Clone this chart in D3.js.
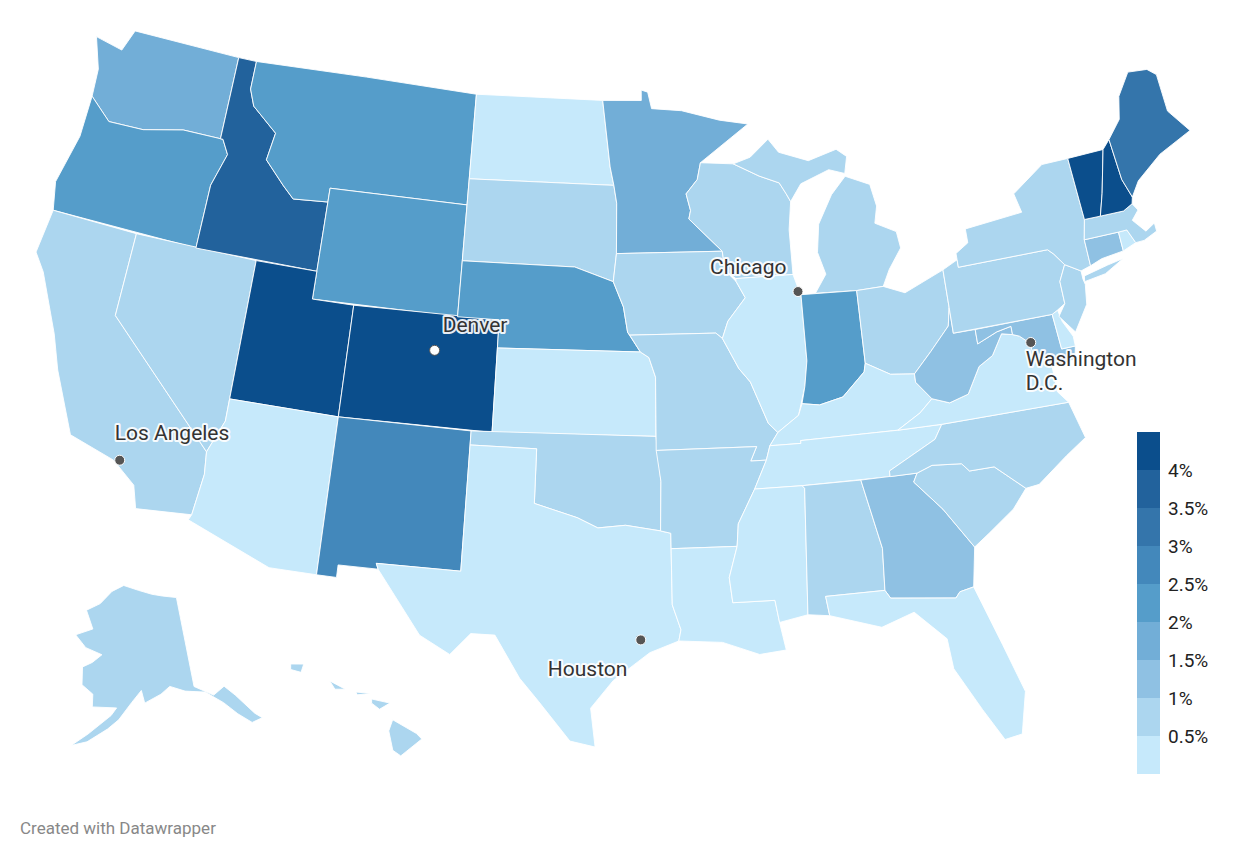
<!DOCTYPE html>
<html><head><meta charset="utf-8">
<script src="https://cdn.jsdelivr.net/npm/d3@7"></script>
<style>body{margin:0;background:#fff;font-family:Roboto,sans-serif}</style>
</head><body>
<svg id="c" width="1240" height="860"></svg>
<script>
const states = ["WA","OR","CA","NV","ID","MT","WY","UT","AZ","CO","NM","ND","SD","NE","KS","OK","TX","MN","IA","MO","AR","LA","WI","IL","MI","IN","OH","KY","TN","MS","AL","GA","FL","SC","NC","VA","WV","MD","DE","PA","NJ","NY","CT","RI","MA","VT","NH","ME","AK","HI"];
const values = [1.7,2.2,0.7,0.7,3.7,2.1,2.1,4.3,0.3,4.3,2.7,0.3,0.8,2.2,0.3,0.8,0.3,1.7,0.8,0.8,0.8,0.3,0.8,0.3,0.8,2.2,0.8,0.3,0.3,0.3,0.8,1.3,0.3,0.8,0.8,0.3,1.2,1.2,0.3,0.8,0.8,0.8,1.2,0.3,0.8,4.3,4.3,3.2,0.8,0.8];
const legendLabels = ["4%","3.5%","3%","2.5%","2%","1.5%","1%","0.5%"];
const thresholds = [0.5,1,1.5,2,2.5,3,3.5,4];
const colors = ["#c6e9fb","#acd6ef","#8fc1e3","#72aed7","#559dca","#4388bb","#3475ab","#22629c","#0b4e8c"];
const cities = [
 {name:"Denver",lon:-104.99,lat:39.74,white:true,dx:8,dy:-18,lines:["Denver"]},
 {name:"Chicago",lon:-87.63,lat:41.88,dx:-88,dy:-18,lines:["Chicago"]},
 {name:"Washington",lon:-77.04,lat:38.9,dx:-5,dy:24,lines:["Washington","D.C."]},
 {name:"Los Angeles",lon:-118.24,lat:34.05,dx:-5,dy:-20,lines:["Los Angeles"]},
 {name:"Houston",lon:-95.37,lat:29.76,dx:-93,dy:36,lines:["Houston"]}
];
// approximate state outlines [lon,lat]
const geo = {
WA:[[[-124.7,48.4],[-123.2,48.2],[-122.8,49],[-117.03,49],[-117.03,46],[-119,46],[-121,45.65],[-122.8,45.6],[-124,46.3],[-124.1,47.3]]],
OR:[[[-124,46.3],[-122.8,45.6],[-121,45.65],[-119,46],[-116.9,46],[-116.5,45.5],[-117,44.3],[-117.03,42],[-124.2,42],[-124.5,43],[-124,44.8]]],
CA:[[[-124.2,42],[-120,42],[-120,39],[-114.6,35],[-114.5,34.2],[-114.7,32.7],[-117.1,32.5],[-117.4,33.3],[-118.5,34],[-120.6,34.5],[-121.9,36.6],[-122.5,37.8],[-123.8,39.8],[-124.4,40.4]]],
NV:[[[-120,42],[-114.04,42],[-114.04,36.2],[-114.6,35],[-120,39]]],
ID:[[[-117.03,49],[-116.05,49],[-116.05,47.98],[-115.7,47.4],[-114.3,46.6],[-114.5,45.6],[-113.4,44.8],[-112.8,44.4],[-111.05,44.5],[-111.05,42],[-117.03,42],[-117,44.3],[-116.5,45.5],[-116.9,46],[-117.03,46]]],
MT:[[[-116.05,49],[-104.05,49],[-104.05,45],[-111.05,45],[-111.05,44.5],[-112.8,44.4],[-113.4,44.8],[-114.5,45.6],[-114.3,46.6],[-115.7,47.4],[-116.05,47.98]]],
WY:[[[-111.05,45],[-104.05,45],[-104.05,41],[-111.05,41]]],
UT:[[[-114.04,42],[-111.05,42],[-111.05,41],[-109.05,41],[-109.05,37],[-114.04,37]]],
AZ:[[[-114.04,37],[-109.05,37],[-109.05,31.33],[-111.07,31.33],[-114.8,32.5],[-114.7,32.7],[-114.5,34.2],[-114.6,35],[-114.04,36.2]]],
CO:[[[-109.05,41],[-102.05,41],[-102.05,37],[-109.05,37]]],
NM:[[[-109.05,37],[-103,37],[-103,32],[-106.6,32],[-106.5,31.8],[-108.2,31.78],[-108.2,31.33],[-109.05,31.33]]],
ND:[[[-104.05,49],[-97.23,49],[-96.8,46.6],[-96.6,45.94],[-104.05,45.94]]],
SD:[[[-104.05,45.94],[-96.6,45.94],[-96.45,45.3],[-96.45,43.5],[-96.6,42.5],[-98.5,43],[-104.05,43]]],
NE:[[[-104.05,43],[-98.5,43],[-96.6,42.5],[-96.1,41.6],[-95.9,40.7],[-95.3,40],[-102.05,40],[-102.05,41],[-104.05,41]]],
KS:[[[-102.05,40],[-95.3,40],[-94.9,39.8],[-94.6,39.1],[-94.62,37],[-102.05,37]]],
OK:[[[-103,37],[-94.62,37],[-94.43,35.4],[-94.48,33.64],[-96,33.85],[-97.2,33.75],[-98.1,34.1],[-100,34.56],[-100,36.5],[-103,36.5]]],
TX:[[[-103,36.5],[-100,36.5],[-100,34.56],[-98.1,34.1],[-97.2,33.75],[-96,33.85],[-94.48,33.64],[-94.04,33.55],[-94.04,31],[-93.7,30.1],[-93.8,29.7],[-95,29.3],[-96.5,28.3],[-97.4,27.3],[-97.2,25.9],[-98.2,26.1],[-99.5,27.5],[-100.3,28.3],[-101.4,29.8],[-102.4,29.8],[-103.2,29],[-104.5,29.6],[-106.5,31.8],[-106.6,32],[-103,32]]],
MN:[[[-97.23,49],[-95.15,49],[-95.15,49.38],[-94.8,49.3],[-94.6,48.7],[-93,48.6],[-91,48.2],[-89.5,48],[-92.1,46.7],[-92.3,46.1],[-92.9,45.6],[-92.7,45],[-92.8,44.7],[-91.2,43.5],[-96.45,43.5],[-96.45,45.3],[-96.6,45.94],[-96.8,46.6]]],
IA:[[[-96.45,43.5],[-91.2,43.5],[-91.1,42.8],[-90.6,42.4],[-90.2,41.8],[-91.1,41],[-91.4,40.4],[-91.7,40.6],[-95.8,40.6],[-95.9,40.7],[-96.1,41.6],[-96.6,42.5]]],
MO:[[[-95.8,40.6],[-91.7,40.6],[-91.4,40.4],[-90.7,39.3],[-90.2,38.8],[-89.5,37.3],[-89.1,36.95],[-89.5,36.5],[-89.7,36],[-90.4,36],[-90.1,36.5],[-94.62,36.5],[-94.6,39.1],[-94.9,39.8],[-95.3,40]]],
AR:[[[-94.62,36.5],[-90.1,36.5],[-90.4,36],[-89.7,36],[-90.3,35],[-91.1,33.8],[-91.2,33],[-94.04,33],[-94.04,33.55],[-94.48,33.64],[-94.43,35.4]]],
LA:[[[-94.04,33],[-91.2,33],[-91.6,31.9],[-91.5,31],[-89.73,31],[-89.6,30.2],[-89.4,29.2],[-90.5,29.1],[-92,29.6],[-93.8,29.7],[-93.7,30.1],[-94.04,31]]],
WI:[[[-92.1,46.7],[-90.4,46.6],[-89.1,46.1],[-88.1,45.8],[-87.8,45.4],[-87.6,45.1],[-87.8,44.1],[-87.8,42.5],[-90.6,42.5],[-91.1,42.8],[-91.2,43.5],[-92.8,44.7],[-92.7,45],[-92.9,45.6],[-92.3,46.1]]],
IL:[[[-90.6,42.5],[-87.8,42.5],[-87.5,41.7],[-87.5,39.4],[-87.7,38.5],[-88.1,37.5],[-89.1,36.95],[-89.5,37.3],[-90.2,38.8],[-90.7,39.3],[-91.4,40.4],[-91.1,41],[-90.2,41.8],[-90.6,42.4]]],
MI:[[[-86.8,41.76],[-84.8,41.7],[-83.5,41.73],[-83.1,42.3],[-82.4,43],[-82.5,43.6],[-83.5,44],[-83.3,44.6],[-83.5,45.4],[-84.7,45.8],[-85.5,45.2],[-86.3,44.2],[-86.5,43.2],[-86.2,42.4]],
    [[-90.4,46.6],[-89.1,46.1],[-88.1,45.8],[-87.8,45.4],[-87.6,45.1],[-87,45.7],[-85.5,46.1],[-84.7,45.9],[-84.5,46.5],[-85,46.8],[-86.5,46.5],[-88,46.9],[-88.5,47.4],[-89.5,46.8]]],
IN:[[[-87.5,41.76],[-84.8,41.7],[-84.8,39.1],[-84.9,38.8],[-86,38],[-87.1,37.8],[-87.9,37.9],[-87.7,38.5],[-87.5,39.4]]],
OH:[[[-84.8,41.7],[-83.5,41.73],[-82.5,41.4],[-80.52,42],[-80.52,40.64],[-80.7,40],[-81.7,39.2],[-82.6,38.5],[-83.7,38.6],[-84.8,39.1]]],
KY:[[[-84.8,39.1],[-83.7,38.6],[-82.6,38.5],[-82.6,38.2],[-81.97,37.54],[-82.6,37.1],[-83.7,36.6],[-88.1,36.6],[-88.1,36.5],[-89.5,36.5],[-89.1,36.95],[-88.1,37.5],[-87.9,37.9],[-87.1,37.8],[-86,38],[-84.9,38.8]]],
TN:[[[-90.3,35],[-89.7,36],[-89.5,36.5],[-88.1,36.5],[-88.1,36.6],[-83.7,36.6],[-81.7,36.59],[-82.1,36.1],[-84.3,35.2],[-84.3,35],[-88.2,35]]],
MS:[[[-91.1,33.8],[-90.3,35],[-88.2,35],[-88.1,34.9],[-88.4,30.4],[-89.6,30.2],[-89.73,31],[-91.5,31],[-91.6,31.9],[-91.2,33]]],
AL:[[[-88.2,35],[-85.6,35],[-85,32.5],[-85.1,31],[-87.6,31],[-87.5,30.3],[-88.4,30.4],[-88.1,34.9]]],
GA:[[[-85.6,35],[-83.1,35],[-83.3,34.7],[-82.2,33.6],[-81.1,32.1],[-81.4,30.7],[-82,30.6],[-82.2,30.4],[-84.9,30.7],[-85.1,31],[-85,32.5]]],
FL:[[[-87.6,31],[-85.1,31],[-84.9,30.7],[-82.2,30.4],[-82,30.6],[-81.4,30.7],[-80.6,28.5],[-80,26.7],[-80.4,25.2],[-81.1,25.1],[-81.8,26.3],[-82.7,27.9],[-82.8,29],[-84,30.1],[-85.4,29.7],[-87.5,30.3]]],
SC:[[[-83.1,35],[-82.4,35.2],[-81.1,35.1],[-80.8,34.8],[-79.7,34.8],[-78.5,33.85],[-79.2,33.2],[-80.4,32.5],[-81.1,32.1],[-82.2,33.6],[-83.3,34.7]]],
NC:[[[-84.3,35],[-84.3,35.2],[-82.1,36.1],[-81.7,36.59],[-75.9,36.55],[-75.5,35.2],[-76.5,34.7],[-77.9,33.9],[-78.5,33.85],[-79.7,34.8],[-80.8,34.8],[-81.1,35.1],[-82.4,35.2],[-83.1,35]]],
VA:[[[-83.7,36.6],[-81.7,36.59],[-75.9,36.55],[-76.3,37],[-76.3,38],[-77,38.4],[-77.1,38.9],[-77.5,39.2],[-77.8,39.3],[-78.3,39.4],[-78.9,38.7],[-79.6,38.4],[-80.3,37.5],[-81.2,37.3],[-81.97,37.54],[-82.6,37.1]]],
WV:[[[-81.97,37.54],[-81.2,37.3],[-80.3,37.5],[-79.6,38.4],[-78.9,38.7],[-78.3,39.4],[-77.8,39.3],[-77.8,39.6],[-78.5,39.5],[-79.48,39.2],[-79.48,39.72],[-80.52,39.72],[-80.52,40.64],[-80.7,40],[-81.7,39.2],[-82.6,38.5],[-82.6,38.2]]],
MD:[[[-79.48,39.72],[-75.79,39.72],[-75.7,38.45],[-75.05,38.45],[-75.2,38],[-75.9,37.9],[-76.3,38],[-77,38.4],[-77.1,38.9],[-77.5,39.2],[-77.8,39.3],[-77.8,39.6],[-78.5,39.5],[-79.48,39.2]]],
DE:[[[-75.79,39.72],[-75.5,39.83],[-75.4,39.4],[-75.05,38.8],[-75.05,38.45],[-75.7,38.45]]],
PA:[[[-80.52,42],[-79.76,42.27],[-79.76,42],[-75.35,42],[-75.1,41.8],[-74.7,41.35],[-75.1,40.8],[-75.1,40],[-75.5,39.83],[-75.79,39.72],[-80.52,39.72],[-80.52,40.64]]],
NJ:[[[-75.1,40.8],[-74.7,41.35],[-74,41],[-74,40.7],[-73.95,40.5],[-74.1,39.8],[-74.9,38.93],[-75.5,39.6],[-75.1,40]]],
NY:[[[-79.76,42.27],[-79.76,42],[-75.35,42],[-75.1,41.8],[-74.7,41.35],[-74,41],[-73.5,41.1],[-73.5,42.05],[-73.26,42.75],[-73.35,45.01],[-74.7,45.01],[-76.4,44.2],[-76.2,43.5],[-79.1,43.3],[-79.1,42.8],[-79.76,42.5]],
    [[-73.95,40.6],[-73.9,40.8],[-72.7,40.98],[-71.9,41.07],[-72.9,40.7]]],
CT:[[[-73.5,41.1],[-73.5,42.05],[-71.8,42.02],[-71.8,41.33],[-72.9,41.25]]],
RI:[[[-71.8,42.02],[-71.38,42.02],[-71.12,41.5],[-71.8,41.33]]],
MA:[[[-73.5,42.05],[-73.26,42.75],[-71.3,42.7],[-70.8,42.87],[-70.6,42.6],[-71,42.3],[-70.5,41.8],[-70,42],[-70,41.7],[-70.7,41.5],[-71.12,41.5],[-71.38,42.02],[-71.8,42.02]]],
VT:[[[-73.26,42.75],[-72.46,42.73],[-72.1,43.5],[-71.5,45.01],[-73.35,45.01]]],
NH:[[[-72.46,42.73],[-71.3,42.7],[-70.8,42.87],[-70.7,43.1],[-70.98,43.8],[-71.08,45.3],[-71.5,45.01],[-72.1,43.5]]],
ME:[[[-70.7,43.1],[-70.98,43.8],[-71.08,45.3],[-70.3,45.9],[-70,46.7],[-69.2,47.45],[-68.2,47.35],[-67.8,47.07],[-67.8,45.7],[-67,44.8],[-68.8,44.3],[-70.2,43.6]]],
AK:[[[-141,69.6],[-141,60.3],[-137.5,59],[-135,59.6],[-133.4,58.4],[-131,56],[-130,55.3],[-132,55.2],[-134,56.5],[-136,58],[-139,59.5],[-143,60],[-146,60.7],[-148,60],[-151.4,59.2],[-152,60.5],[-154,59.3],[-156.5,57.5],[-158.5,56.5],[-162,55],[-164.7,54.4],[-162,55.8],[-158,57.9],[-157,58.7],[-161.8,58.6],[-162,59.9],[-164.5,60.7],[-165,62.5],[-163,63.1],[-161,64],[-165,64.5],[-168,65.6],[-164,66.5],[-166.5,68.3],[-163,69.2],[-160,70.6],[-156.5,71.3],[-152,70.8],[-148,70.3],[-145,70]]],
HI:[[[-155.9,20.2],[-155,19.7],[-154.8,19.5],[-155.6,18.9],[-155.9,19.1],[-156.05,19.8]],
    [[-156.7,20.95],[-156,20.8],[-156.4,20.58],[-156.7,20.8]],
    [[-158.3,21.6],[-157.7,21.3],[-158.1,21.3]],
    [[-159.8,22.2],[-159.3,22.2],[-159.4,21.9],[-159.8,22]],
    [[-157.3,21.2],[-156.7,21.15],[-157.25,21.1]]]
};
function feature(id){
  let polys = geo[id].map(r=>[r.concat([r[0]])]);
  let f = {type:"Feature",id,geometry:{type:"MultiPolygon",coordinates:polys}};
  f.geometry.coordinates = polys.map(p=>{
    const g={type:"Polygon",coordinates:p};
    return d3.geoArea(g)>2*Math.PI ? [p[0].slice().reverse()] : p;
  });
  return f;
}
const feats = states.map(feature);
const lower = {type:"FeatureCollection",features:feats.filter(f=>f.id!=="AK"&&f.id!=="HI")};
const projection = d3.geoAlbersUsa().fitExtent([[36,20],[1190,758]], lower);
const path = d3.geoPath(projection);
const color = d3.scaleThreshold().domain(thresholds).range(colors);
const svg = d3.select("#c");
svg.append("g").selectAll("path").data(feats).join("path")
  .attr("d",path).attr("fill",(d,i)=>color(values[i]))
  .attr("stroke","#fff").attr("stroke-width",0.9).attr("stroke-linejoin","round");
const cg = svg.append("g");
cities.forEach(c=>{
  const [x,y]=projection([c.lon,c.lat]);
  cg.append("circle").attr("cx",x).attr("cy",y).attr("r",5)
    .attr("fill",c.white?"#fff":"#555").attr("stroke",c.white?"#555":"#fff").attr("stroke-width",1);
  c.lines.forEach((l,k)=>{
    const t=()=>cg.append("text").attr("x",x+c.dx).attr("y",y+c.dy+k*24).text(l)
      .attr("font-size",21).attr("font-family","Roboto,sans-serif");
    t().attr("stroke","#fff").attr("stroke-width",4).attr("stroke-linejoin","round").attr("fill","#fff").attr("opacity",0.9);
    t().attr("fill","#333");
  });
});
// legend
const lg = svg.append("g");
const ly = d3.scaleLinear().domain([0,colors.length]).range([774,432]);
colors.forEach((c,i)=>{
  lg.append("rect").attr("x",1137).attr("y",ly(i+1)).attr("width",23).attr("height",ly(i)-ly(i+1)).attr("fill",c);
});
legendLabels.slice().reverse().forEach((l,i)=>{
  lg.append("text").attr("x",1168).attr("y",ly(i+1)+7).text(l).attr("font-size",19).attr("fill","#222");
});
svg.append("text").attr("x",20).attr("y",834).text("Created with Datawrapper").attr("font-size",17).attr("fill","#888");
</script>
</body></html>
